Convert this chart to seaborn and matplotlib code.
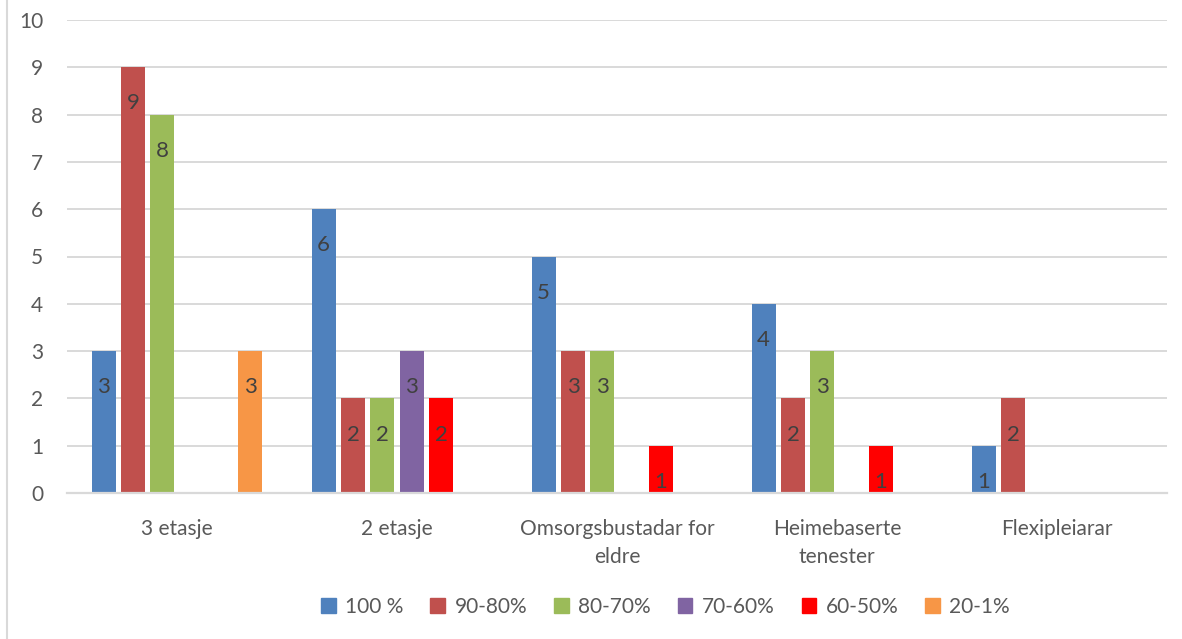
import matplotlib
matplotlib.use("Agg")
import matplotlib.pyplot as plt
import seaborn as sns
import pandas as pd
from matplotlib.lines import Line2D

categories = ["3 etasje", "2 etasje", "Omsorgsbustadar for\neldre", "Heimebaserte\ntenester", "Flexipleiarar"]
series = ["100 %", "90-80%", "80-70%", "70-60%", "60-50%", "20-1%"]
v_100 = [3, 6, 5, 4, 1]
v_90_80 = [9, 2, 3, 2, 2]
v_80_70 = [8, 2, 3, 3, 0]
v_70_60 = [0, 3, 0, 0, 0]
v_60_50 = [0, 2, 1, 1, 0]
v_20_1 = [3, 0, 0, 0, 0]
colors = ["#4F81BD", "#C0504D", "#9BBB59", "#8064A2", "#FF0000", "#F79646"]
y_ticks = list(range(0, 11))

values = [v_100, v_90_80, v_80_70, v_70_60, v_60_50, v_20_1]
rows = []
for s, vals in zip(series, values):
    for c, v in zip(categories, vals):
        rows.append({"Kategori": c, "Serie": s, "Verdi": v})
df = pd.DataFrame(rows)

sns.set_theme(style="white")
plt.rcParams["font.family"] = ["Lato", "DejaVu Sans"]

fig = plt.figure(figsize=(11.82, 6.39), dpi=100)
ax = fig.add_axes([67 / 1182, 1 - 493 / 639, 1100 / 1182, 473 / 639])

sns.barplot(data=df, x="Kategori", y="Verdi", hue="Serie", order=categories,
            hue_order=series, palette=colors, width=0.8, gap=0.18,
            saturation=1, ax=ax, legend=False, errorbar=None, linewidth=0)

ax.set_ylim(0, 10)
ax.set_xlim(-0.5, len(categories) - 0.5)
ax.set_yticks(y_ticks)
ax.set_yticklabels([str(t) for t in y_ticks])
ax.yaxis.grid(True, color="#D9D9D9", linewidth=1.4)
ax.set_axisbelow(True)
for sp in ["top", "right", "left"]:
    ax.spines[sp].set_visible(False)
ax.spines["bottom"].set_color("#D9D9D9")
ax.spines["bottom"].set_linewidth(1.6)
ax.set_xlabel("")
ax.set_ylabel("")
ax.tick_params(axis="both", length=0, labelsize=15, colors="#595959")
ax.tick_params(axis="y", pad=17)
ax.tick_params(axis="x", pad=19)
for lbl in ax.get_xticklabels():
    lbl.set_linespacing(1.45)

for cont in ax.containers:
    for bar in cont:
        h = bar.get_height()
        if h > 0:
            ax.annotate(f"{int(h)}", xy=(bar.get_x() + bar.get_width() / 2, h),
                        xytext=(0, -26), textcoords="offset points",
                        ha="center", va="center", fontsize=16, color="#404040")

handles = [plt.Rectangle((0, 0), 1, 1, color=c) for c in colors]
fig.legend(handles, series, loc="center", bbox_to_anchor=(0.563, 0.050), ncol=6,
           frameon=False, fontsize=15, handlelength=0.7, handleheight=0.7,
           columnspacing=1.3, handletextpad=0.45, labelcolor="#595959")

fig.add_artist(Line2D([7 / 1182, 7 / 1182], [0, 1], transform=fig.transFigure,
                      color="#D9D9D9", linewidth=1.5))

fig.savefig("out.png", dpi=100)
